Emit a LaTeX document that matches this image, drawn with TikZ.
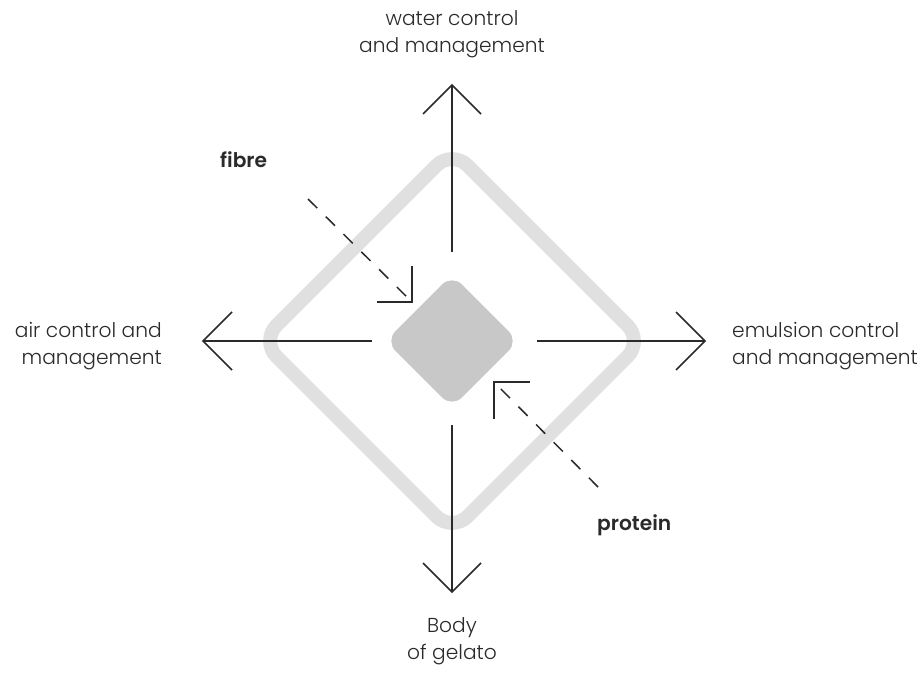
\documentclass[tikz,border=0pt]{standalone}
\usepackage{fontspec}
\setmainfont{Poppins Light}[BoldFont={Poppins SemiBold}]
\definecolor{ink}{HTML}{2A2A2A}
\definecolor{ringgray}{HTML}{E0E0E0}
\definecolor{coregray}{HTML}{C8C8C8}
\tikzset{
  lbl/.style={font=\fontsize{20.2}{27}\selectfont, text=ink, inner sep=0pt},
  blbl/.style={lbl, font=\fontsize{20.2}{27}\selectfont\bfseries},
  axis/.style={draw=ink, line width=1.5pt},
  dashline/.style={draw=ink, line width=1.5pt, dash pattern=on 13pt off 12pt},
}
\begin{document}
\begin{tikzpicture}[x=1pt,y=-1pt]
\useasboundingbox (0,0) rectangle (920,684);
% outer ring
\coordinate (c) at (452,341);
\draw[ringgray, line width=14pt, rounded corners=22pt]
  (261,341) -- (452,150) -- (643,341) -- (452,532) -- cycle;
% core
\node (core) [draw=none, fill=coregray, minimum size=94pt, rounded corners=14pt, rotate=45, inner sep=0pt] at (c) {};
% axis arrows
\coordinate (ut) at (452,85);
\coordinate (us) at (452,252);
\draw[axis] (us) -- (ut);
\draw[axis] (423,114) -- (ut) -- (481,114);
\coordinate (lt) at (203,341);
\coordinate (ls) at (372,341);
\draw[axis] (ls) -- (lt);
\draw[axis] (232,312) -- (lt) -- (232,370);
\coordinate (rt) at (705,341);
\coordinate (rs) at (537,341);
\draw[axis] (rs) -- (rt);
\draw[axis] (676,312) -- (rt) -- (676,370);
\coordinate (dt) at (452,592);
\coordinate (ds) at (452,425);
\draw[axis] (ds) -- (dt);
\draw[axis] (423,563) -- (dt) -- (481,563);
% dashed inputs
\coordinate (ft) at (412,302);
\coordinate (fs) at (308,199);
\draw[dashline] (fs) -- (ft);
\draw[axis] (377,302) -- (ft) -- (412,266);
\coordinate (pt) at (494,382);
\coordinate (ps) at (598,487);
\draw[dashline] (ps) -- (pt);
\draw[axis] (530,382) -- (pt) -- (494,419);
% labels
\node (water) [lbl, align=center] at (452,34) {water control\\and management};
\node (air) [lbl, align=right, anchor=east] at (162,346) {air control and\\management};
\node (emul) [lbl, align=left, anchor=west] at (732,346) {emulsion control\\and management};
\node (body) [lbl, align=center] at (452,641) {Body\\of gelato};
\node (fibre) [blbl, anchor=west] at (220,160) {fibre};
\node (protein) [blbl, anchor=west] at (597,525) {protein};
\end{tikzpicture}
\end{document}
